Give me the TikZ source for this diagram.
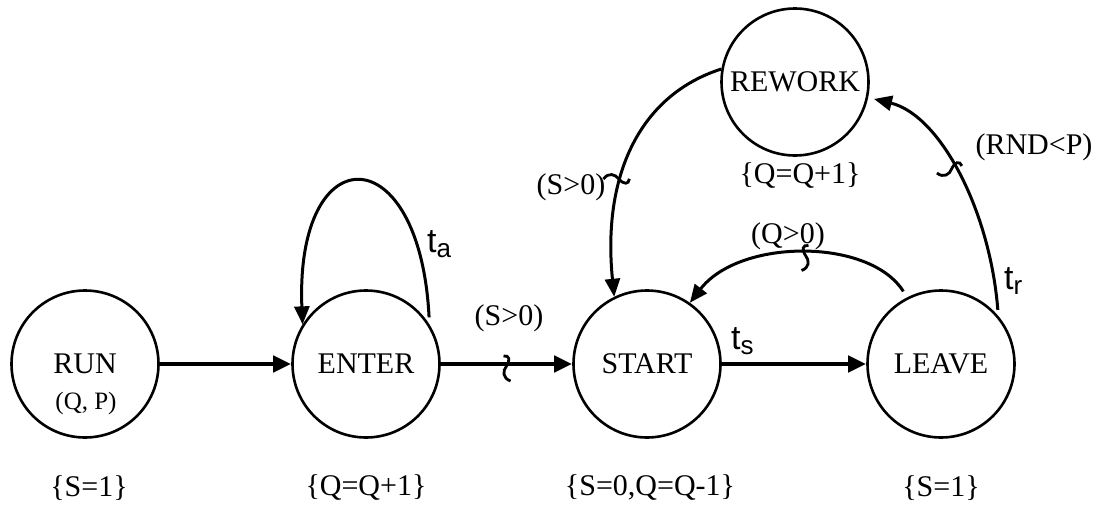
\documentclass[tikz,border=0pt]{standalone}
\usepackage{fontspec}
\setmainfont{Liberation Serif}
\newfontfamily\labelsans{Liberation Sans}
\usetikzlibrary{arrows.meta,decorations.markings}

\tikzset{
  state/.style={draw, circle, minimum size=147pt, inner sep=0pt, line width=2.6pt,
    font=\fontsize{30}{30}\selectfont},
  txt/.style={font=\fontsize{30}{30}\selectfont, inner sep=0pt},
  small/.style={font=\fontsize{25}{25}\selectfont, inner sep=0pt},
  tlabel/.style={font=\labelsans\fontsize{34}{34}\selectfont, inner sep=0pt, anchor=base west},
  straight/.style={line width=4.5pt, -{Triangle[length=18pt,width=16pt]}},
  curved/.style={line width=3pt, -{Triangle[length=18pt,width=15pt]}},
  squigline/.style={line width=2.8pt, arrows=-, shorten >=0pt, shorten <=0pt},
  squig/.style={postaction={decorate, decoration={markings,
      mark=at position #1 with {\draw[squigline] (-3pt,8pt) .. controls (3pt,9pt) and (4pt,4pt) .. (0pt,-2pt)
      .. controls (-4pt,-7pt) and (-4pt,-14pt) .. (4pt,-17pt);}}}},
  squigflip/.style={postaction={decorate, decoration={markings,
      mark=at position #1 with {\draw[squigline, yscale=-1] (-3pt,8pt) .. controls (3pt,9pt) and (4pt,4pt) .. (0pt,-2pt)
      .. controls (-4pt,-7pt) and (-4pt,-14pt) .. (4pt,-17pt);}}}},
}

\begin{document}
\begin{tikzpicture}[x=1pt, y=-1pt]
  \useasboundingbox (0,0) rectangle (1101,506);

  % states
  \node[state] (run)    at (85,364)  {RUN};
  \node[small] (runqp)  at (86,403)  {(Q, P)};
  \node[state] (enter)  at (366,364) {ENTER};
  \node[state] (start)  at (647,364) {START};
  \node[state] (leave)  at (941,364) {LEAVE};
  \node[state] (rework) at (795,82)  {REWORK};

  % state changes
  \node[txt] (runeq)    at (89,488)  {\{S=1\}};
  \node[txt] (entereq)  at (366,488) {\{Q=Q+1\}};
  \node[txt] (starteq)  at (650,488) {\{S=0,Q=Q-1\}};
  \node[txt] (leaveeq)  at (941,488) {\{S=1\}};
  \node[txt] (reworkeq) at (800,176) {\{Q=Q+1\}};

  % edges
  \draw[straight] (run) -- (enter);
  \draw[straight, squig=0.5] (enter) -- (start);
  \draw[straight] (start) -- (leave);
  \draw[curved, shorten <=7pt] (enter.32) .. controls (420,135) and (295,135) .. (enter.148);
  \draw[curved, squig=0.57] (rework.170) .. controls (640,95) and (602,175) .. (start.116);
  \draw[curved, shorten <=7pt, squigflip=0.47] (leave.117) .. controls (870,238) and (740,238) .. (start.55);
  \draw[curved, shorten <=6pt, shorten >=6pt, squigflip=0.58] (leave.40) .. controls (990,210) and (940,115) .. (rework.-12);

  % edge conditions
  \node[txt] (c1) at (509,318)  {(S>0)};
  \node[txt] (c2) at (571,187)  {(S>0)};
  \node[txt] (c3) at (788,236)  {(Q>0)};
  \node[txt] (c4) at (1034,147) {(RND<P)};

  % delays
  \node[tlabel] (ta) at (427,252)  {t\raisebox{-5pt}{\fontsize{26}{26}\selectfont a}};
  \node[tlabel] (ts) at (731,349)  {t\raisebox{-5pt}{\fontsize{26}{26}\selectfont s}};
  \node[tlabel] (tr) at (1004,289) {t\raisebox{-5pt}{\fontsize{26}{26}\selectfont r}};
\end{tikzpicture}
\end{document}
